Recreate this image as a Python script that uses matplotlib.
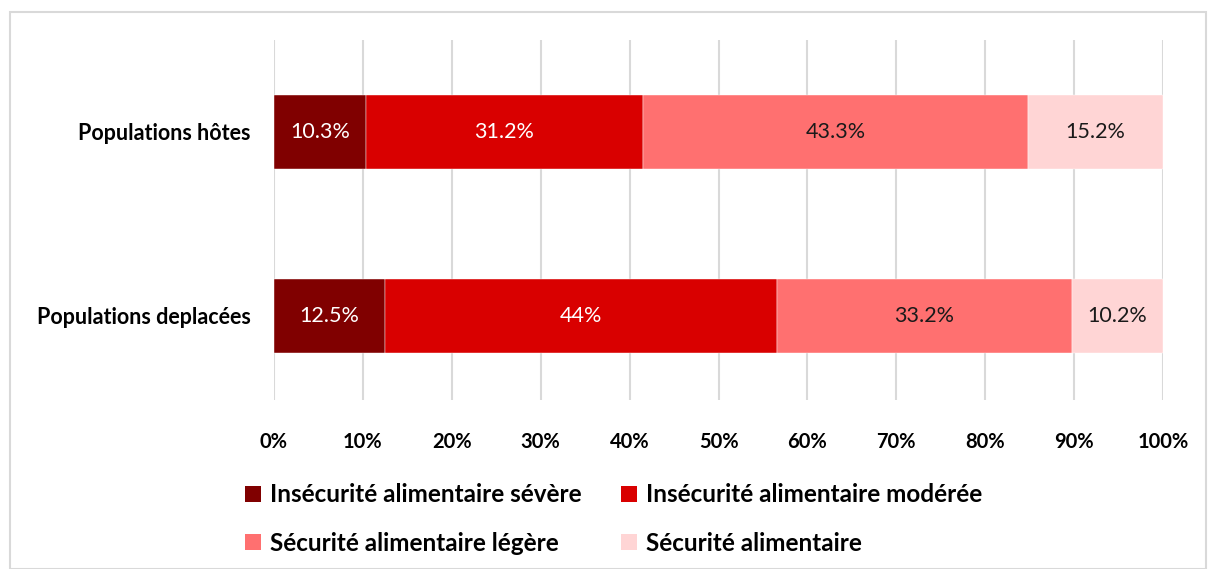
import matplotlib
matplotlib.use("Agg")
import matplotlib.pyplot as plt
from matplotlib.patches import Rectangle, Patch
import numpy as np

plt.rcParams['font.family'] = ['Lato', 'DejaVu Sans']

categories = ["Populations deplacées", "Populations hôtes"]
series_names = ["Insécurité alimentaire sévère", "Insécurité alimentaire modérée",
                "Sécurité alimentaire légère", "Sécurité alimentaire"]
values = {
    "Insécurité alimentaire sévère": [12.5, 10.3],
    "Insécurité alimentaire modérée": [44.0, 31.2],
    "Sécurité alimentaire légère": [33.2, 43.3],
    "Sécurité alimentaire": [10.2, 15.2],
}
labels = {
    "Insécurité alimentaire sévère": ["12.5%", "10.3%"],
    "Insécurité alimentaire modérée": ["44%", "31.2%"],
    "Sécurité alimentaire légère": ["33.2%", "43.3%"],
    "Sécurité alimentaire": ["10.2%", "15.2%"],
}
colors = ["#800000", "#D90000", "#FF7070", "#FFD5D5"]
text_colors = ["white", "white", "#1a1a1a", "#1a1a1a"]
xticks = [0, 10, 20, 30, 40, 50, 60, 70, 80, 90, 100]

fig = plt.figure(figsize=(12.08, 5.69), dpi=100)
ax = fig.add_axes([274/1208, 1-400/569, (1163-274)/1208, 360/569])

totals = np.sum([values[s] for s in series_names], axis=0)
y = np.arange(len(categories))
left = np.zeros(len(categories))
for s, c, tc in zip(series_names, colors, text_colors):
    w = np.array(values[s]) / totals * 100
    ax.barh(y, w, left=left, height=0.4, color=c, edgecolor='white', linewidth=0.3, zorder=3)
    for yi, (l, wi, lab) in enumerate(zip(left, w, labels[s])):
        ax.text(l + wi/2, yi, lab, ha='center', va='center', color=tc, fontsize=15.5, zorder=4)
    left += w

ax.set_xlim(0, 100)
ax.set_ylim(-0.457, 1.5)
ax.set_xticks(xticks)
ax.set_xticklabels([f"{t}%" for t in xticks], fontsize=14.5, fontweight='bold')
ax.set_yticks(y)
ax.set_yticklabels(categories, fontsize=15.5, fontweight='bold')
ax.tick_params(axis='both', length=0)
ax.tick_params(axis='x', pad=23)
ax.tick_params(axis='y', pad=17)
ax.grid(axis='x', color='#d9d9d9', linewidth=1.5, zorder=0)
for sp in ax.spines.values():
    sp.set_visible(False)

handles = [Patch(facecolor=c, edgecolor='none') for c in colors]
order = [0, 2, 1, 3]
fig.legend([handles[i] for i in order], [series_names[i] for i in order],
           ncol=2, loc='center left', bbox_to_anchor=(223/1208, 1-519/569),
           frameon=False, handlelength=0.65, handleheight=0.65,
           handletextpad=0.4, columnspacing=1.6, labelspacing=1.05,
           prop={'weight': 'bold', 'size': 17.5})

fig.patches.append(Rectangle((10/1208, 0), 1196/1208, 1-12/569, transform=fig.transFigure,
                             fill=False, edgecolor='#d9d9d9', linewidth=1.5))

fig.savefig("out.png", dpi=100)
